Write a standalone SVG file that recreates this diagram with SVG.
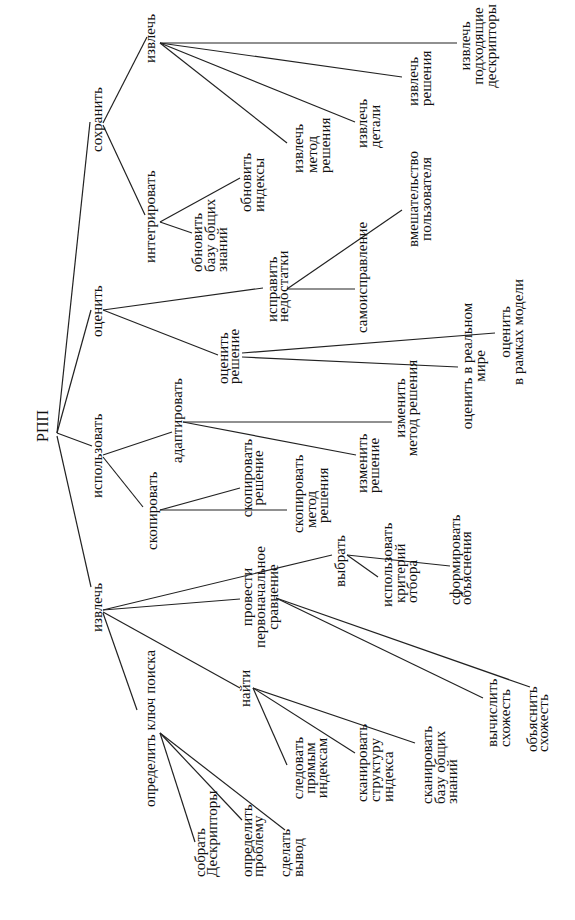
<svg xmlns="http://www.w3.org/2000/svg" width="575" height="920" viewBox="0 0 575 920">
<style>
.t{font-size:15px;fill:#111}
.m{text-anchor:middle}
.c line{stroke:#222;stroke-width:1.2}
</style>
<rect width="575" height="920" fill="#fff"/>
<g id="connectors" class="c">
<line x1="57" y1="433" x2="90" y2="122"/>
<line x1="57" y1="433" x2="91" y2="310"/>
<line x1="57" y1="433" x2="92" y2="446"/>
<line x1="57" y1="436" x2="91" y2="587"/>
<line x1="103" y1="123" x2="147" y2="37"/>
<line x1="103" y1="125" x2="145" y2="215"/>
<line x1="160" y1="222" x2="240" y2="178"/>
<line x1="160" y1="222" x2="192" y2="233"/>
<line x1="160" y1="43" x2="457" y2="43"/>
<line x1="160" y1="43" x2="402" y2="77"/>
<line x1="160" y1="43" x2="355" y2="122"/>
<line x1="160" y1="43" x2="287" y2="143"/>
<line x1="103" y1="310" x2="263" y2="288"/>
<line x1="103" y1="310" x2="218" y2="355"/>
<line x1="287" y1="289" x2="355" y2="289"/>
<line x1="287" y1="289" x2="402" y2="210"/>
<line x1="242" y1="353" x2="495" y2="333"/>
<line x1="242" y1="357" x2="458" y2="367"/>
<line x1="103" y1="455" x2="172" y2="432"/>
<line x1="103" y1="457" x2="143" y2="507"/>
<line x1="183" y1="422" x2="392" y2="422"/>
<line x1="183" y1="422" x2="356" y2="455"/>
<line x1="160" y1="510" x2="240" y2="488"/>
<line x1="160" y1="510" x2="287" y2="510"/>
<line x1="103" y1="610" x2="332" y2="555"/>
<line x1="103" y1="610" x2="240" y2="599"/>
<line x1="103" y1="612" x2="240" y2="688"/>
<line x1="103" y1="613" x2="137" y2="710"/>
<line x1="276" y1="598" x2="483" y2="698"/>
<line x1="276" y1="598" x2="530" y2="687"/>
<line x1="347" y1="555" x2="378" y2="577"/>
<line x1="347" y1="555" x2="450" y2="566"/>
<line x1="253" y1="688" x2="287" y2="765"/>
<line x1="253" y1="688" x2="355" y2="753"/>
<line x1="253" y1="688" x2="415" y2="743"/>
<line x1="160" y1="733" x2="195" y2="842"/>
<line x1="160" y1="733" x2="242" y2="820"/>
<line x1="160" y1="733" x2="285" y2="830"/>
</g>
<g id="labels" font-family="Liberation Serif, Times New Roman, serif">
<g id="n-rpp"><text class="t" style="font-size:16px" transform="translate(48,442) rotate(-90)">РПП</text></g>
<g id="n-sohranit"><text class="t" transform="translate(102,152) rotate(-90)">сохранить</text></g>
<g id="n-izvlech-top"><text class="t" transform="translate(155,63) rotate(-90)">извлечь</text></g>
<g id="n-integrirovat"><text class="t" transform="translate(155,263) rotate(-90)">интегрировать</text></g>
<g id="n-obnovit-indeksy"><text class="t" transform="translate(251,212) rotate(-90)"><tspan x="0" y="0">обновить</tspan><tspan x="0" y="12.5">индексы</tspan></text></g>
<g id="n-obnovit-bazu"><text class="t" transform="translate(202,272) rotate(-90)"><tspan x="0" y="0">обновить</tspan><tspan x="0" y="12.5">базу общих</tspan><tspan x="0" y="25">знаний</tspan></text></g>
<g id="n-izvlech-deskr"><text class="t m" transform="translate(470,46) rotate(-90)"><tspan x="0" y="0">извлечь</tspan><tspan x="0" y="13">подходящие</tspan><tspan x="0" y="26">дескрипторы</tspan></text></g>
<g id="n-izvlech-resheniya"><text class="t" transform="translate(418,106) rotate(-90)"><tspan x="0" y="0">извлечь</tspan><tspan x="0" y="12.5">решения</tspan></text></g>
<g id="n-izvlech-detali"><text class="t" transform="translate(367,148) rotate(-90)"><tspan x="0" y="0">извлечь</tspan><tspan x="0" y="12.5">детали</tspan></text></g>
<g id="n-izvlech-metod"><text class="t" transform="translate(303,173) rotate(-90)"><tspan x="0" y="0">извлечь</tspan><tspan x="0" y="13.5">метод</tspan><tspan x="0" y="27">решения</tspan></text></g>
<g id="n-ocenit"><text class="t" transform="translate(102,337) rotate(-90)">оценить</text></g>
<g id="n-ispravit"><text class="t" transform="translate(277,322) rotate(-90)"><tspan x="0" y="0">исправить</tspan><tspan x="0" y="11">недостатки</tspan></text></g>
<g id="n-samoispr"><text class="t" transform="translate(367,333) rotate(-90)">самоисправление</text></g>
<g id="n-vmesh"><text class="t m" transform="translate(418,199) rotate(-90)"><tspan x="0" y="0">вмешательство</tspan><tspan x="0" y="12.5">пользователя</tspan></text></g>
<g id="n-ocenit-reshenie"><text class="t" transform="translate(228,384) rotate(-90)"><tspan x="0" y="0">оценить</tspan><tspan x="0" y="10.5">решение</tspan></text></g>
<g id="n-ocenit-model"><text class="t m" transform="translate(510,332) rotate(-90)"><tspan x="0" y="0">оценить</tspan><tspan x="0" y="12.5">в рамках модели</tspan></text></g>
<g id="n-ocenit-mir"><text class="t m" transform="translate(472,366) rotate(-90)"><tspan x="0" y="0">оценить в реальном</tspan><tspan x="0" y="12.5">мире</tspan></text></g>
<g id="n-ispolzovat"><text class="t" transform="translate(102,498) rotate(-90)">использовать</text></g>
<g id="n-adaptirovat"><text class="t" transform="translate(182,463) rotate(-90)">адаптировать</text></g>
<g id="n-izmenit-metod"><text class="t m" transform="translate(405,408) rotate(-90)"><tspan x="0" y="0">изменить</tspan><tspan x="0" y="12">метод решения</tspan></text></g>
<g id="n-izmenit-reshenie"><text class="t" transform="translate(367,493) rotate(-90)"><tspan x="0" y="0">изменить</tspan><tspan x="0" y="12">решение</tspan></text></g>
<g id="n-skopirovat"><text class="t" transform="translate(157,550) rotate(-90)">скопировать</text></g>
<g id="n-skop-reshenie"><text class="t m" transform="translate(252,478) rotate(-90)"><tspan x="0" y="0">скопировать</tspan><tspan x="0" y="11">решение</tspan></text></g>
<g id="n-skop-metod"><text class="t" transform="translate(303,533) rotate(-90)"><tspan x="0" y="0">скопировать</tspan><tspan x="5" y="12.5">метод</tspan><tspan x="10" y="25">решения</tspan></text></g>
<g id="n-izvlech-low"><text class="t" transform="translate(102,632) rotate(-90)">извлечь</text></g>
<g id="n-provesti"><text class="t m" transform="translate(252,597) rotate(-90)"><tspan x="0" y="0">провести</tspan><tspan x="0" y="12.5">первоначальное</tspan><tspan x="0" y="25.5">сравнение</tspan></text></g>
<g id="n-vybrat"><text class="t" transform="translate(345,587) rotate(-90)">выбрать</text></g>
<g id="n-kriteriy"><text class="t" transform="translate(392,607) rotate(-90)"><tspan x="0" y="0">использовать</tspan><tspan x="4" y="12.5">критерий</tspan><tspan x="4" y="25">отбора</tspan></text></g>
<g id="n-sformirovat"><text class="t" transform="translate(460,605) rotate(-90)"><tspan x="0" y="0">сформировать</tspan><tspan x="0" y="11">объяснения</tspan></text></g>
<g id="n-vychislit"><text class="t" transform="translate(497,747) rotate(-90)"><tspan x="0" y="0">вычислить</tspan><tspan x="0" y="13">схожесть</tspan></text></g>
<g id="n-obyasnit"><text class="t" transform="translate(537,752) rotate(-90)"><tspan x="0" y="0">объяснить</tspan><tspan x="0" y="11">схожесть</tspan></text></g>
<g id="n-nayti"><text class="t" transform="translate(250,707) rotate(-90)">найти</text></g>
<g id="n-sledovat"><text class="t m" transform="translate(303,768) rotate(-90)"><tspan x="0" y="0">следовать</tspan><tspan x="0" y="12">прямым</tspan><tspan x="0" y="24">индексам</tspan></text></g>
<g id="n-skan-struktura"><text class="t" transform="translate(367,802) rotate(-90)"><tspan x="0" y="0">сканировать</tspan><tspan x="0" y="13">структуру</tspan><tspan x="0" y="25.5">индекса</tspan></text></g>
<g id="n-skan-baza"><text class="t" transform="translate(432,804) rotate(-90)"><tspan x="0" y="0">сканировать</tspan><tspan x="0" y="13">базу общих</tspan><tspan x="0" y="25">знаний</tspan></text></g>
<g id="n-opredelit-klyuch"><text class="t" transform="translate(155,807) rotate(-90)">определить ключ поиска</text></g>
<g id="n-sobrat"><text class="t" transform="translate(205,877) rotate(-90)"><tspan x="0" y="0">собрать</tspan><tspan x="0" y="12">Дескрипторы</tspan></text></g>
<g id="n-opredelit-problemu"><text class="t" transform="translate(252,877) rotate(-90)"><tspan x="0" y="0">определить</tspan><tspan x="0" y="11">проблему</tspan></text></g>
<g id="n-sdelat"><text class="t" transform="translate(290,877) rotate(-90)"><tspan x="0" y="0">сделать</tspan><tspan x="0" y="13">вывод</tspan></text></g>
</g>
</svg>
